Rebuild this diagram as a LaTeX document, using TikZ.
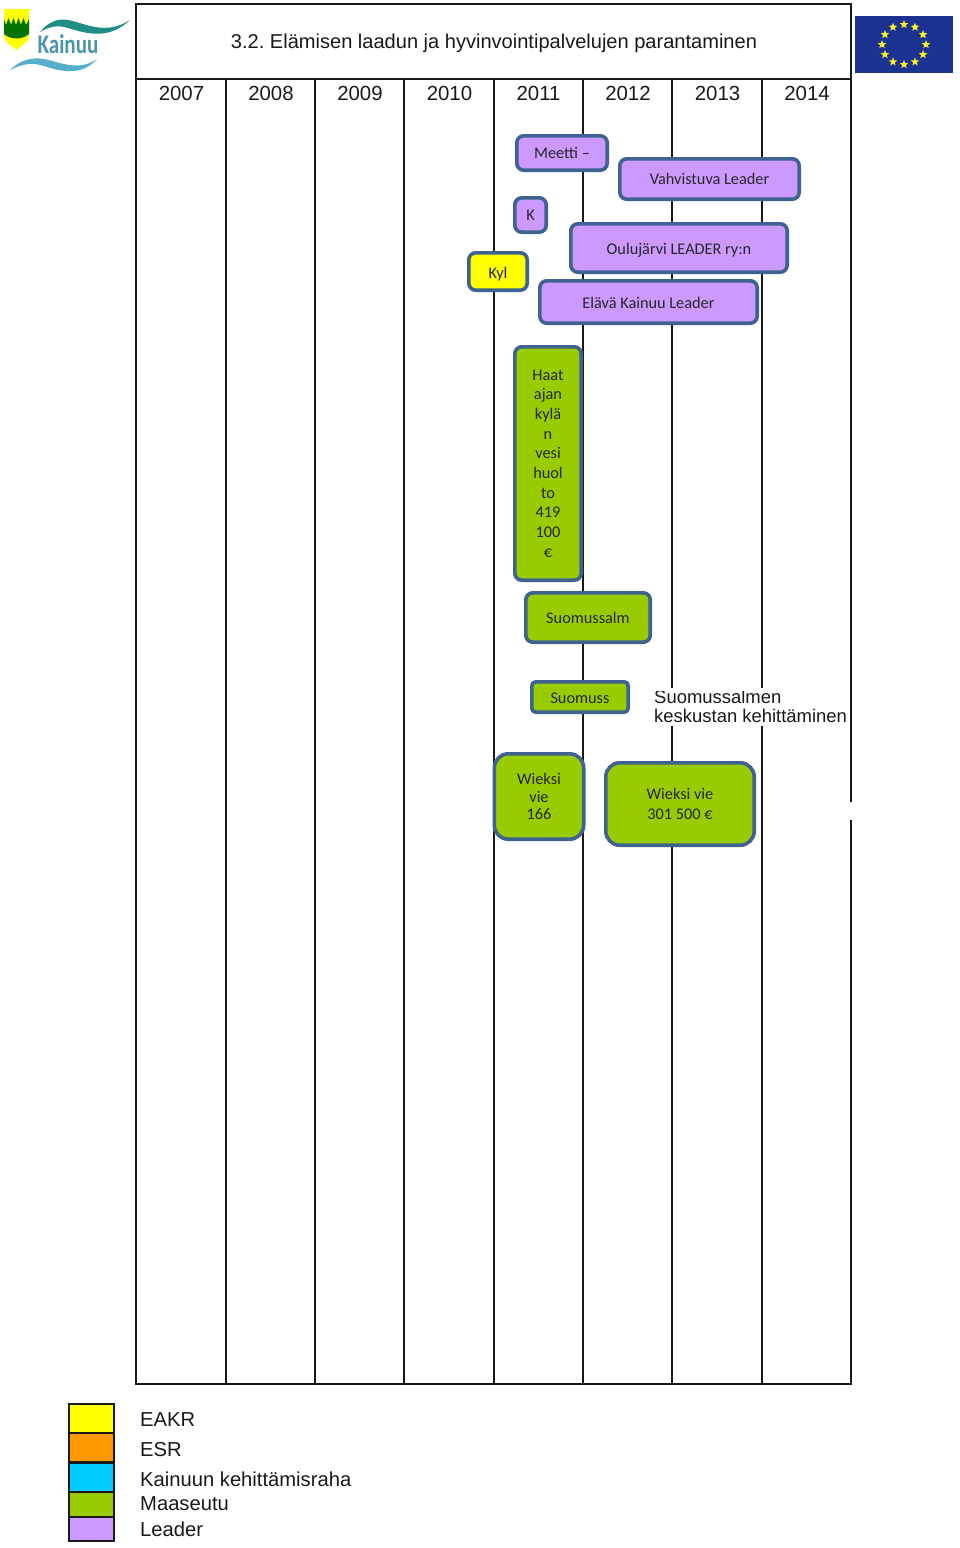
\documentclass[tikz,border=0pt]{standalone}
\usepackage{fontspec}
\setmainfont{Liberation Sans}
\newfontfamily\boxfont{Carlito}
\usepackage{xcolor}
\usetikzlibrary{shapes.geometric,positioning}
\definecolor{leaderfill}{HTML}{CC99FF}
\definecolor{ruralfill}{HTML}{99CC00}
\definecolor{eakrfill}{HTML}{FFFF00}
\definecolor{esrfill}{HTML}{FF9900}
\definecolor{kehfill}{HTML}{00CCFF}
\definecolor{boxedge}{HTML}{3F6390}
\definecolor{flagblue}{HTML}{1C3391}
\definecolor{logoteal}{HTML}{1F8C86}
\definecolor{logoblue}{HTML}{55AFCB}

\begin{document}
\begin{tikzpicture}[
    x=1pt, y=-1pt,
    fundbox/.style={rectangle, draw=boxedge, line width=3.6pt, rounded corners=7pt, inner sep=0pt, align=center, text=black!85, font=\boxfont\fontsize{16.3}{19.7}\selectfont},
    leaderbox/.style={fundbox, fill=leaderfill},
    ruralbox/.style={fundbox, fill=ruralfill},
    eakrbox/.style={fundbox, fill=eakrfill},
    yearlabel/.style={font=\fontsize{20.4}{24}\selectfont, inner sep=0pt, text=black!90},
    gridline/.style={line width=2pt, black!90},
    legendbox/.style={rectangle, draw=black!90, line width=2pt, minimum width=45pt, inner sep=0pt},
    legendlabel/.style={anchor=west, inner sep=0pt, font=\fontsize{20.2}{24}\selectfont, text=black!90}
]
\useasboundingbox (0,0) rectangle (960,1548);

% Table frame
\draw[gridline] (136,4) rectangle (851,1384);
\draw[gridline] (136,79) -- (851,79);
\draw[gridline] (226,79) -- (226,1384);
\draw[gridline] (315,79) -- (315,1384);
\draw[gridline] (404,79) -- (404,1384);
\draw[gridline] (494,79) -- (494,1384);
\draw[gridline] (583,79) -- (583,1384);
\draw[gridline] (672,79) -- (672,1384);
\draw[gridline] (762,79) -- (762,1384);
\fill[white] (847,802) rectangle (855,820);

% Title and years
\node[font=\fontsize{20.05}{24}\selectfont, text=black!90] (title) at (494,43) {3.2.\ Elämisen laadun ja hyvinvointipalvelujen parantaminen};
\node[yearlabel] (y2007) at (181.5,93) {2007};
\node[yearlabel] (y2008) at (271,93) {2008};
\node[yearlabel] (y2009) at (360,93) {2009};
\node[yearlabel] (y2010) at (449.5,93) {2010};
\node[yearlabel] (y2011) at (538.5,93) {2011};
\node[yearlabel] (y2012) at (628,93) {2012};
\node[yearlabel] (y2013) at (717.5,93) {2013};
\node[yearlabel] (y2014) at (807,93) {2014};

% Leader projects
\node[leaderbox, minimum width=90.4pt, minimum height=34.4pt] (meetti) at (562,153) {Meetti –};
\node[leaderbox, minimum width=179.4pt, minimum height=40.4pt] (vahvistuva) at (709.5,179) {Vahvistuva Leader};
\node[leaderbox, minimum width=31.4pt, minimum height=34.4pt] (k) at (530.5,215) {K};
\node[leaderbox, minimum width=216.4pt, minimum height=48.4pt, text height=14pt, text depth=2pt] (oulujarvi) at (679,248) {Oulujärvi LEADER ry:n};
\node[leaderbox, minimum width=217.4pt, minimum height=42.4pt, text height=13pt, text depth=0pt] (elava) at (648.5,302) {Elävä Kainuu Leader};

% EAKR project
\node[eakrbox, minimum width=58.4pt, minimum height=37.4pt, text height=14pt, text depth=0pt] (kyl) at (498,271.5) {Kyl};

% Rural projects
\node[ruralbox, minimum width=66.4pt, minimum height=233.4pt] (haat) at (548,463.5) {Haat\\ajan\\kylä\\n\\vesi\\huol\\to\\419\\100\\€};
\node[ruralbox, minimum width=124.4pt, minimum height=49.4pt] (suomussalm) at (588,617.5) {Suomussalm};
\node[ruralbox, minimum width=96.4pt, minimum height=30.4pt, rounded corners=4pt, text height=12pt, text depth=0pt] (suomuss) at (580,697) {Suomuss};
\node[ruralbox, minimum width=89.4pt, minimum height=85.4pt, rounded corners=14pt, font=\boxfont\fontsize{16.3}{17.5}\selectfont] (wieksia) at (539,796.5) {Wieksi\\vie\\166};
\node[ruralbox, minimum width=148.4pt, minimum height=82.4pt, rounded corners=14pt] (wieksib) at (680,804) {Wieksi vie\\301 500 €};

% Text without box
\fill[white] (652,688) rectangle (848,726);
\begin{scope}
\clip (652,691) rectangle (848,726);
\node[anchor=west, inner sep=0pt, align=left, text=black!90, font=\fontsize{18.45}{19}\selectfont] (keskusta) at (654,706) {Suomussalmen\\keskustan kehittäminen};
\end{scope}

% Legend
\node[legendbox, fill=eakrfill, minimum height=29pt] (legeakr) at (91.5,1418.5) {};
\node[legendbox, fill=esrfill, minimum height=29pt] (legesr) at (91.5,1447.5) {};
\node[legendbox, fill=kehfill, minimum height=29pt] (legkeh) at (91.5,1477) {};
\node[legendbox, fill=ruralfill, minimum height=25pt] (legrural) at (91.5,1504) {};
\node[legendbox, fill=leaderfill, minimum height=24pt] (legleader) at (91.5,1529) {};
\node[legendlabel] (txteakr) at (140,1420) {EAKR};
\node[legendlabel] (txtesr) at (140,1449.5) {ESR};
\node[legendlabel] (txtkeh) at (140,1479) {Kainuun kehittämisraha};
\node[legendlabel] (txtrural) at (140,1504) {Maaseutu};
\node[legendlabel] (txtleader) at (140,1529) {Leader};

% Kainuu logo
\fill[eakrfill] (4,9) -- (29,9) -- (29,34) .. controls (29,44) and (20,46) .. (16.5,50) .. controls (13,46) and (4,44) .. (4,34) -- cycle;
\fill[green!45!black] (4,19) -- (6,25) -- (8.5,18) -- (11,25) -- (13.5,18) -- (16,25) -- (18.5,18) -- (21,25) -- (23.5,18) -- (26,25) -- (29,19) -- (29,34) .. controls (22,40) and (11,40) .. (4,34) -- cycle;
\fill[logoteal] (40,32) .. controls (48,22) and (58,18) .. (68,20) .. controls (85,23) and (105,36) .. (130,20) .. controls (108,41) and (85,33) .. (68,28) .. controls (58,25) and (50,26) .. (40,32) -- cycle;
\fill[logoblue] (10,70) .. controls (20,60) and (32,57) .. (44,59) .. controls (60,62) and (78,72) .. (97,59) .. controls (82,76) and (62,72) .. (44,66) .. controls (32,62) and (22,64) .. (10,70) -- cycle;
\node[inner sep=0pt, text=logoblue!85!black, font=\boxfont\bfseries\fontsize{27}{30}\selectfont] (kainuu) at (68,44) {\scalebox{.78}[1]{Kainuu}};

% EU flag
\fill[flagblue] (855,16) rectangle (953,73);
\foreach \a in {0,30,...,330}
  \node[star, star points=5, star point ratio=2.4, fill=yellow!85!white, minimum size=9pt, inner sep=0pt] (eu\a) at ({904+22*cos(\a)},{44.5+20*sin(\a)}) {};
\end{tikzpicture}
\end{document}
